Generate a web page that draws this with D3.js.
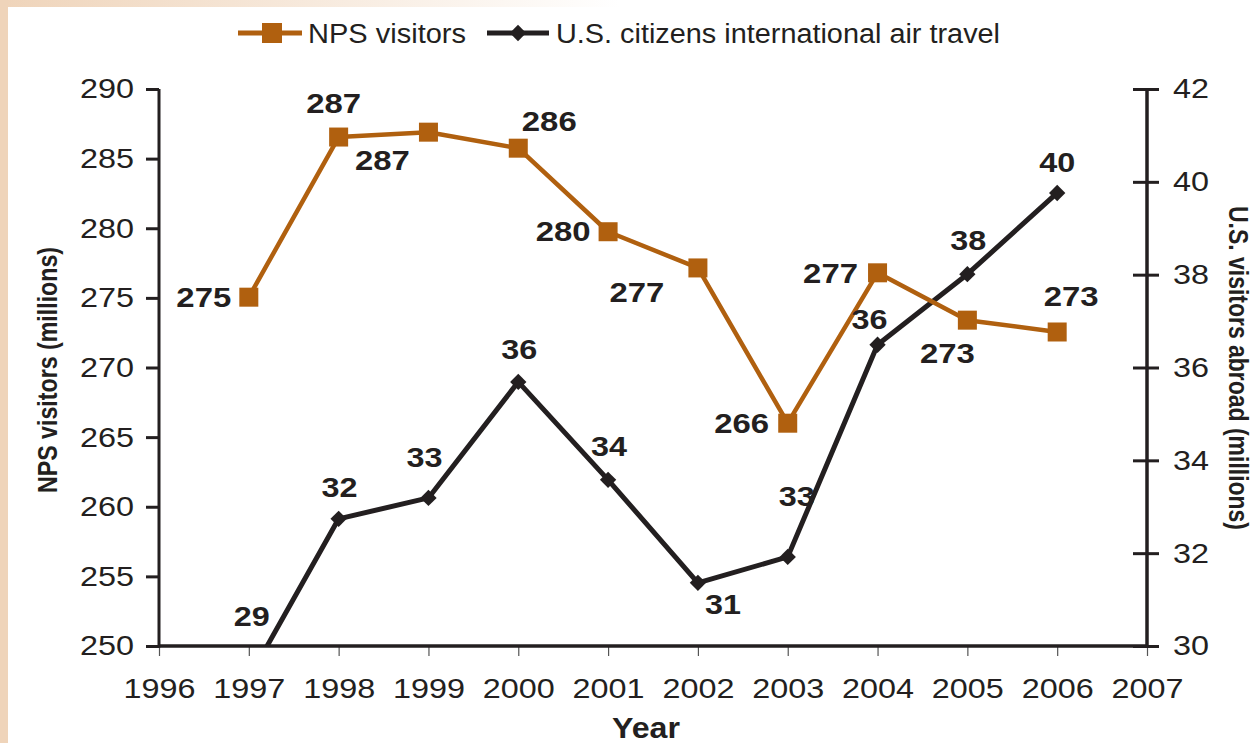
<!DOCTYPE html>
<meta charset="utf-8">
<script src="https://d3js.org/d3.v7.min.js"></script>
<style>
  body { margin: 0; background: #fff; }
  svg text { fill: #231f20; }
</style>
<div id="chart"></div>
<script>

// data
var years = [1997, 1998, 1999, 2000, 2001, 2002, 2003, 2004, 2005, 2006];
var npsVisitors = [275.05, 286.55, 286.9, 285.75, 279.75, 277.15, 266.0, 276.8, 273.4, 272.55];
var npsLabels = ["275", "287", "287", "286", "280", "277", "266", "277", "273", "273"];
var airTravel = [29.3, 32.74, 33.19, 35.69, 33.58, 31.36, 31.92, 36.49, 38.01, 39.76];
var airLabels = ["29", "32", "33", "36", "34", "31", "33", "36", "38", "40"];
var xTicks = d3.range(1996, 2008);
var leftTicks = [250, 255, 260, 265, 270, 275, 280, 285, 290];
var rightTicks = [30, 32, 34, 36, 38, 40, 42];

var W = 1253, H = 743;
var orange = "#b0600f", ink = "#231f20";
var txtFont = "Liberation Sans, Arial, sans-serif";

// label nudges (dx, dy) from each marker, like the original
var npsOff = [[-45,0],[-5,-34],[-46,28],[31,-27],[-45,0],[-61,24],[-46,0],[-47,0],[-20,33],[14,-36]];
var airOff = [[3,-62],[1,-32],[-4,-41],[1,-33],[1,-34],[25,21],[9,-61],[-8,-25],[1,-34],[0,-31]];

// the original digits are a little wider than Arial
function widen(sel, perChar) {
  sel.attr("textLength", function() { return this.textContent.length * perChar; })
     .attr("lengthAdjust", "spacingAndGlyphs");
}

var svg = d3.select("#chart").append("svg")
  .attr("width", W).attr("height", H);

// peach frame on the left and fading strip on top
var defs = svg.append("defs");
var grad = defs.append("linearGradient").attr("id", "topfade");
grad.append("stop").attr("offset", "0%").attr("stop-color", "#efd4ba");
grad.append("stop").attr("offset", "100%").attr("stop-color", "#ffffff");
svg.append("rect").attr("x", 0).attr("y", 0).attr("width", 620).attr("height", 7).attr("fill", "url(#topfade)");
svg.append("rect").attr("x", 0).attr("y", 0).attr("width", 8).attr("height", H).attr("fill", "#efd4ba");

var plot = {left: 159, right: 1147, top: 89, bottom: 646};

var x = d3.scaleLinear().domain([1996, 2007]).range([plot.left, plot.right]);
var yL = d3.scaleLinear().domain([250, 290]).range([plot.bottom, plot.top]);
var yR = d3.scaleLinear().domain([30, 42]).range([plot.bottom, plot.top]);

defs.append("clipPath").attr("id", "plotclip").append("rect")
  .attr("x", plot.left).attr("y", plot.top)
  .attr("width", plot.right - plot.left).attr("height", plot.bottom - plot.top);

// bottom axis
var gx = svg.append("g")
  .attr("transform", "translate(0," + plot.bottom + ")")
  .call(d3.axisBottom(x).tickValues(xTicks).tickFormat(d3.format("d")).tickSize(10).tickPadding(22));
gx.select(".domain").remove();
gx.selectAll(".tick line").attr("stroke", "#555").attr("stroke-width", 1.2);
gx.selectAll(".tick text").attr("font-family", txtFont).attr("font-size", 28).attr("fill", ink).call(widen, 18);

// left axis
var gl = svg.append("g")
  .attr("transform", "translate(" + plot.left + ",0)")
  .call(d3.axisLeft(yL).tickValues(leftTicks).tickSize(13).tickPadding(12));
gl.select(".domain").remove();
gl.selectAll(".tick line").attr("stroke", ink).attr("stroke-width", 3);
gl.selectAll(".tick text").attr("font-family", txtFont).attr("font-size", 28).attr("fill", ink).call(widen, 18);

// right axis, ticks cross the line
var gr = svg.append("g")
  .attr("transform", "translate(" + plot.right + ",0)")
  .call(d3.axisRight(yR).tickValues(rightTicks).tickSize(12).tickPadding(14));
gr.select(".domain").remove();
gr.selectAll(".tick line").attr("x1", -14).attr("stroke", ink).attr("stroke-width", 3);
gr.selectAll(".tick text").attr("font-family", txtFont).attr("font-size", 28).attr("fill", ink).call(widen, 18);

// axis lines
svg.append("line").attr("x1", plot.left).attr("x2", plot.right).attr("y1", plot.bottom).attr("y2", plot.bottom)
  .attr("stroke", ink).attr("stroke-width", 3.5);
svg.append("line").attr("x1", plot.left).attr("x2", plot.left).attr("y1", plot.top).attr("y2", plot.bottom + 1.5)
  .attr("stroke", ink).attr("stroke-width", 3);
svg.append("line").attr("x1", plot.right).attr("x2", plot.right).attr("y1", plot.top).attr("y2", plot.bottom + 1.5)
  .attr("stroke", ink).attr("stroke-width", 3.5);

// series
var clipped = svg.append("g").attr("clip-path", "url(#plotclip)");

var npsLine = d3.line().x(function(d, i) { return x(years[i]); }).y(function(d) { return yL(d); });
var airLine = d3.line().x(function(d, i) { return x(years[i]); }).y(function(d) { return yR(d); });

clipped.append("path").datum(airTravel)
  .attr("d", airLine).attr("fill", "none").attr("stroke", ink).attr("stroke-width", 5).attr("stroke-linejoin", "round");
clipped.selectAll(".dia").data(airTravel).enter().append("path")
  .attr("class", "dia")
  .attr("d", d3.symbol().type(d3.symbolDiamond2).size(170))
  .attr("transform", function(d, i) { return "translate(" + x(years[i]) + "," + yR(d) + ")"; })
  .attr("fill", ink);

clipped.append("path").datum(npsVisitors)
  .attr("d", npsLine).attr("fill", "none").attr("stroke", orange).attr("stroke-width", 4.5).attr("stroke-linejoin", "round");
clipped.selectAll(".sq").data(npsVisitors).enter().append("rect")
  .attr("class", "sq")
  .attr("x", function(d, i) { return x(years[i]) - 9.5; })
  .attr("y", function(d) { return yL(d) - 9.5; })
  .attr("width", 19).attr("height", 19)
  .attr("fill", orange);

// data labels
svg.selectAll(".npslab").data(npsVisitors).enter().append("text")
  .attr("class", "npslab")
  .attr("x", function(d, i) { return x(years[i]) + npsOff[i][0]; })
  .attr("y", function(d, i) { return yL(d) + npsOff[i][1]; })
  .attr("dy", "0.36em").attr("text-anchor", "middle")
  .attr("font-family", txtFont).attr("font-weight", "bold").attr("font-size", 27)
  .text(function(d, i) { return npsLabels[i]; })
  .call(widen, 18.3);

svg.selectAll(".airlab").data(airTravel).enter().append("text")
  .attr("class", "airlab")
  .attr("x", function(d, i) { return x(years[i]) + airOff[i][0]; })
  .attr("y", function(d, i) { return yR(d) + airOff[i][1]; })
  .attr("dy", "0.36em").attr("text-anchor", "middle")
  .attr("font-family", txtFont).attr("font-weight", "bold").attr("font-size", 27)
  .text(function(d, i) { return airLabels[i]; })
  .call(widen, 18);

// axis titles
svg.append("text")
  .attr("transform", "translate(57,370) rotate(-90)")
  .attr("text-anchor", "middle")
  .attr("font-family", txtFont).attr("font-weight", "bold").attr("font-size", 27)
  .attr("textLength", 246).attr("lengthAdjust", "spacingAndGlyphs")
  .text("NPS visitors (millions)");

svg.append("text")
  .attr("transform", "translate(1229,368) rotate(90)")
  .attr("text-anchor", "middle")
  .attr("font-family", txtFont).attr("font-weight", "bold").attr("font-size", 27)
  .attr("textLength", 324).attr("lengthAdjust", "spacingAndGlyphs")
  .text("U.S. visitors abroad (millions)");

svg.append("text")
  .attr("x", 646).attr("y", 738)
  .attr("text-anchor", "middle")
  .attr("font-family", txtFont).attr("font-weight", "bold").attr("font-size", 29)
  .attr("textLength", 68).attr("lengthAdjust", "spacingAndGlyphs")
  .text("Year");

// legend
var leg = svg.append("g");
leg.append("line").attr("x1", 238).attr("x2", 302).attr("y1", 33).attr("y2", 33)
  .attr("stroke", orange).attr("stroke-width", 5);
leg.append("rect").attr("x", 262).attr("y", 23).attr("width", 20).attr("height", 20).attr("fill", orange);
leg.append("text").attr("x", 308).attr("y", 43)
  .attr("font-family", txtFont).attr("font-size", 27)
  .attr("textLength", 158).attr("lengthAdjust", "spacingAndGlyphs")
  .text("NPS visitors");

leg.append("line").attr("x1", 487).attr("x2", 549).attr("y1", 33).attr("y2", 33)
  .attr("stroke", ink).attr("stroke-width", 5);
leg.append("path").attr("d", d3.symbol().type(d3.symbolDiamond2).size(170))
  .attr("transform", "translate(518,33)").attr("fill", ink);
leg.append("text").attr("x", 556).attr("y", 43)
  .attr("font-family", txtFont).attr("font-size", 27)
  .attr("textLength", 444).attr("lengthAdjust", "spacingAndGlyphs")
  .text("U.S. citizens international air travel");

</script>
